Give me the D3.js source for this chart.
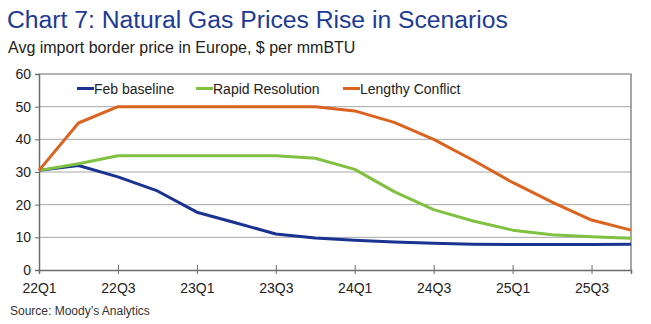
<!DOCTYPE html>
<html>
<head>
<meta charset="utf-8">
<script src="https://cdn.jsdelivr.net/npm/d3@7"></script>
<style>
  body { margin: 0; background: #fff; }
  svg { font-family: "Liberation Sans", Arial, sans-serif; }
</style>
</head>
<body>
<div id="chart-area"></div>
<script>
const quarters = ["22Q1","22Q2","22Q3","22Q4","23Q1","23Q2","23Q3","23Q4",
                  "24Q1","24Q2","24Q3","24Q4","25Q1","25Q2","25Q3","25Q4"];
const tickLabels = ["22Q1","22Q3","23Q1","23Q3","24Q1","24Q3","25Q1","25Q3"];
const yTicks = [0, 10, 20, 30, 40, 50, 60];

const febBaseline = [30.5, 32, 28.5, 24.2, 17.7, 14.4, 11, 9.8, 9.1, 8.6, 8.2, 7.9, 7.8, 7.8, 7.8, 7.9];
const rapidResolution = [30.5, 32.5, 35, 35, 35, 35, 35, 34.2, 30.8, 24, 18.5, 15, 12.2, 10.8, 10.2, 9.7];
const lengthyConflict = [30.5, 45, 50, 50, 50, 50, 50, 50, 48.7, 45.2, 40, 33.6, 26.8, 20.8, 15.3, 12.2];

const seriesNames = ["Feb baseline", "Rapid Resolution", "Lengthy Conflict"];
const seriesColors = ["#1a3391", "#80c141", "#db6320"];

const renderChart = () => {
    const w = 651;
    const h = 324;
    const left = 39, right = 631, top = 74, bottom = 270;

    const svg = d3.select("#chart-area")
        .append("svg")
        .attr("width", w)
        .attr("height", h);

    svg.append("text")
        .attr("x", 7).attr("y", 28)
        .attr("font-size", 24.7)
        .attr("fill", "#1d3a94")
        .text("Chart 7: Natural Gas Prices Rise in Scenarios");

    svg.append("text")
        .attr("x", 8).attr("y", 53)
        .attr("font-size", 16)
        .attr("fill", "#222")
        .text("Avg import border price in Europe, $ per mmBTU");

    svg.append("text")
        .attr("x", 10).attr("y", 315)
        .attr("font-size", 12)
        .attr("fill", "#333")
        .text("Source: Moody\u2019s Analytics");

    const xScale = d3.scalePoint()
        .domain(quarters)
        .range([left, right]);

    const yScale = d3.scaleLinear()
        .domain([0, 60])
        .range([bottom, top]);

    // gridlines
    svg.append("g")
        .selectAll("line")
        .data(yTicks.filter(d => d > 0 && d < 60))
        .enter()
        .append("line")
        .attr("x1", left).attr("x2", right)
        .attr("y1", d => yScale(d)).attr("y2", d => yScale(d))
        .attr("stroke", "#a6a6a6")
        .attr("stroke-width", 1);

    // frame top and right
    svg.append("path")
        .attr("d", `M${left},${yScale(60)}H${right}V${bottom}`)
        .attr("fill", "none")
        .attr("stroke", "#6b6b6b")
        .attr("stroke-width", 1.2);

    const yAxis = d3.axisLeft(yScale)
        .tickValues(yTicks)
        .tickSize(4)
        .tickPadding(4);

    const gy = svg.append("g")
        .attr("transform", `translate(${left},0)`)
        .call(yAxis);
    gy.select(".domain").attr("stroke", "#6b6b6b").attr("stroke-width", 1.5);
    gy.selectAll(".tick line").attr("stroke", "#6b6b6b");
    gy.selectAll("text")
        .attr("font-size", 14)
        .attr("font-family", "Liberation Sans, Arial, sans-serif")
        .attr("fill", "#222");

    const xAxis = d3.axisBottom(xScale)
        .tickValues(tickLabels)
        .tickSize(4)
        .tickPadding(9);

    const gx = svg.append("g")
        .attr("transform", `translate(0,${bottom})`)
        .call(xAxis);
    gx.select(".domain").attr("stroke", "#6b6b6b").attr("stroke-width", 1.5);
    gx.selectAll(".tick line").attr("stroke", "#6b6b6b").attr("y1", -5);
    gx.selectAll("text")
        .attr("font-size", 14)
        .attr("font-family", "Liberation Sans, Arial, sans-serif")
        .attr("fill", "#222");

    const line = d3.line()
        .x((d, i) => xScale(quarters[i]))
        .y(d => yScale(d));

    const allSeries = [febBaseline, rapidResolution, lengthyConflict];

    svg.append("g")
        .selectAll("path")
        .data(allSeries)
        .enter()
        .append("path")
        .attr("d", d => line(d))
        .attr("fill", "none")
        .attr("stroke", (d, i) => seriesColors[i])
        .attr("stroke-width", 3)
        .attr("stroke-linejoin", "round");

    // legend
    const legendX = [77, 196, 343];
    const legend = svg.append("g")
        .selectAll("g")
        .data(seriesNames)
        .enter()
        .append("g")
        .attr("transform", (d, i) => `translate(${legendX[i]},88.5)`);

    legend.append("line")
        .attr("x1", 0).attr("x2", 17)
        .attr("stroke", (d, i) => seriesColors[i])
        .attr("stroke-width", 3);

    legend.append("text")
        .attr("x", 17).attr("y", 5)
        .attr("font-size", 14)
        .attr("fill", "#222")
        .text(d => d);
}

renderChart();
</script>
</body>
</html>
